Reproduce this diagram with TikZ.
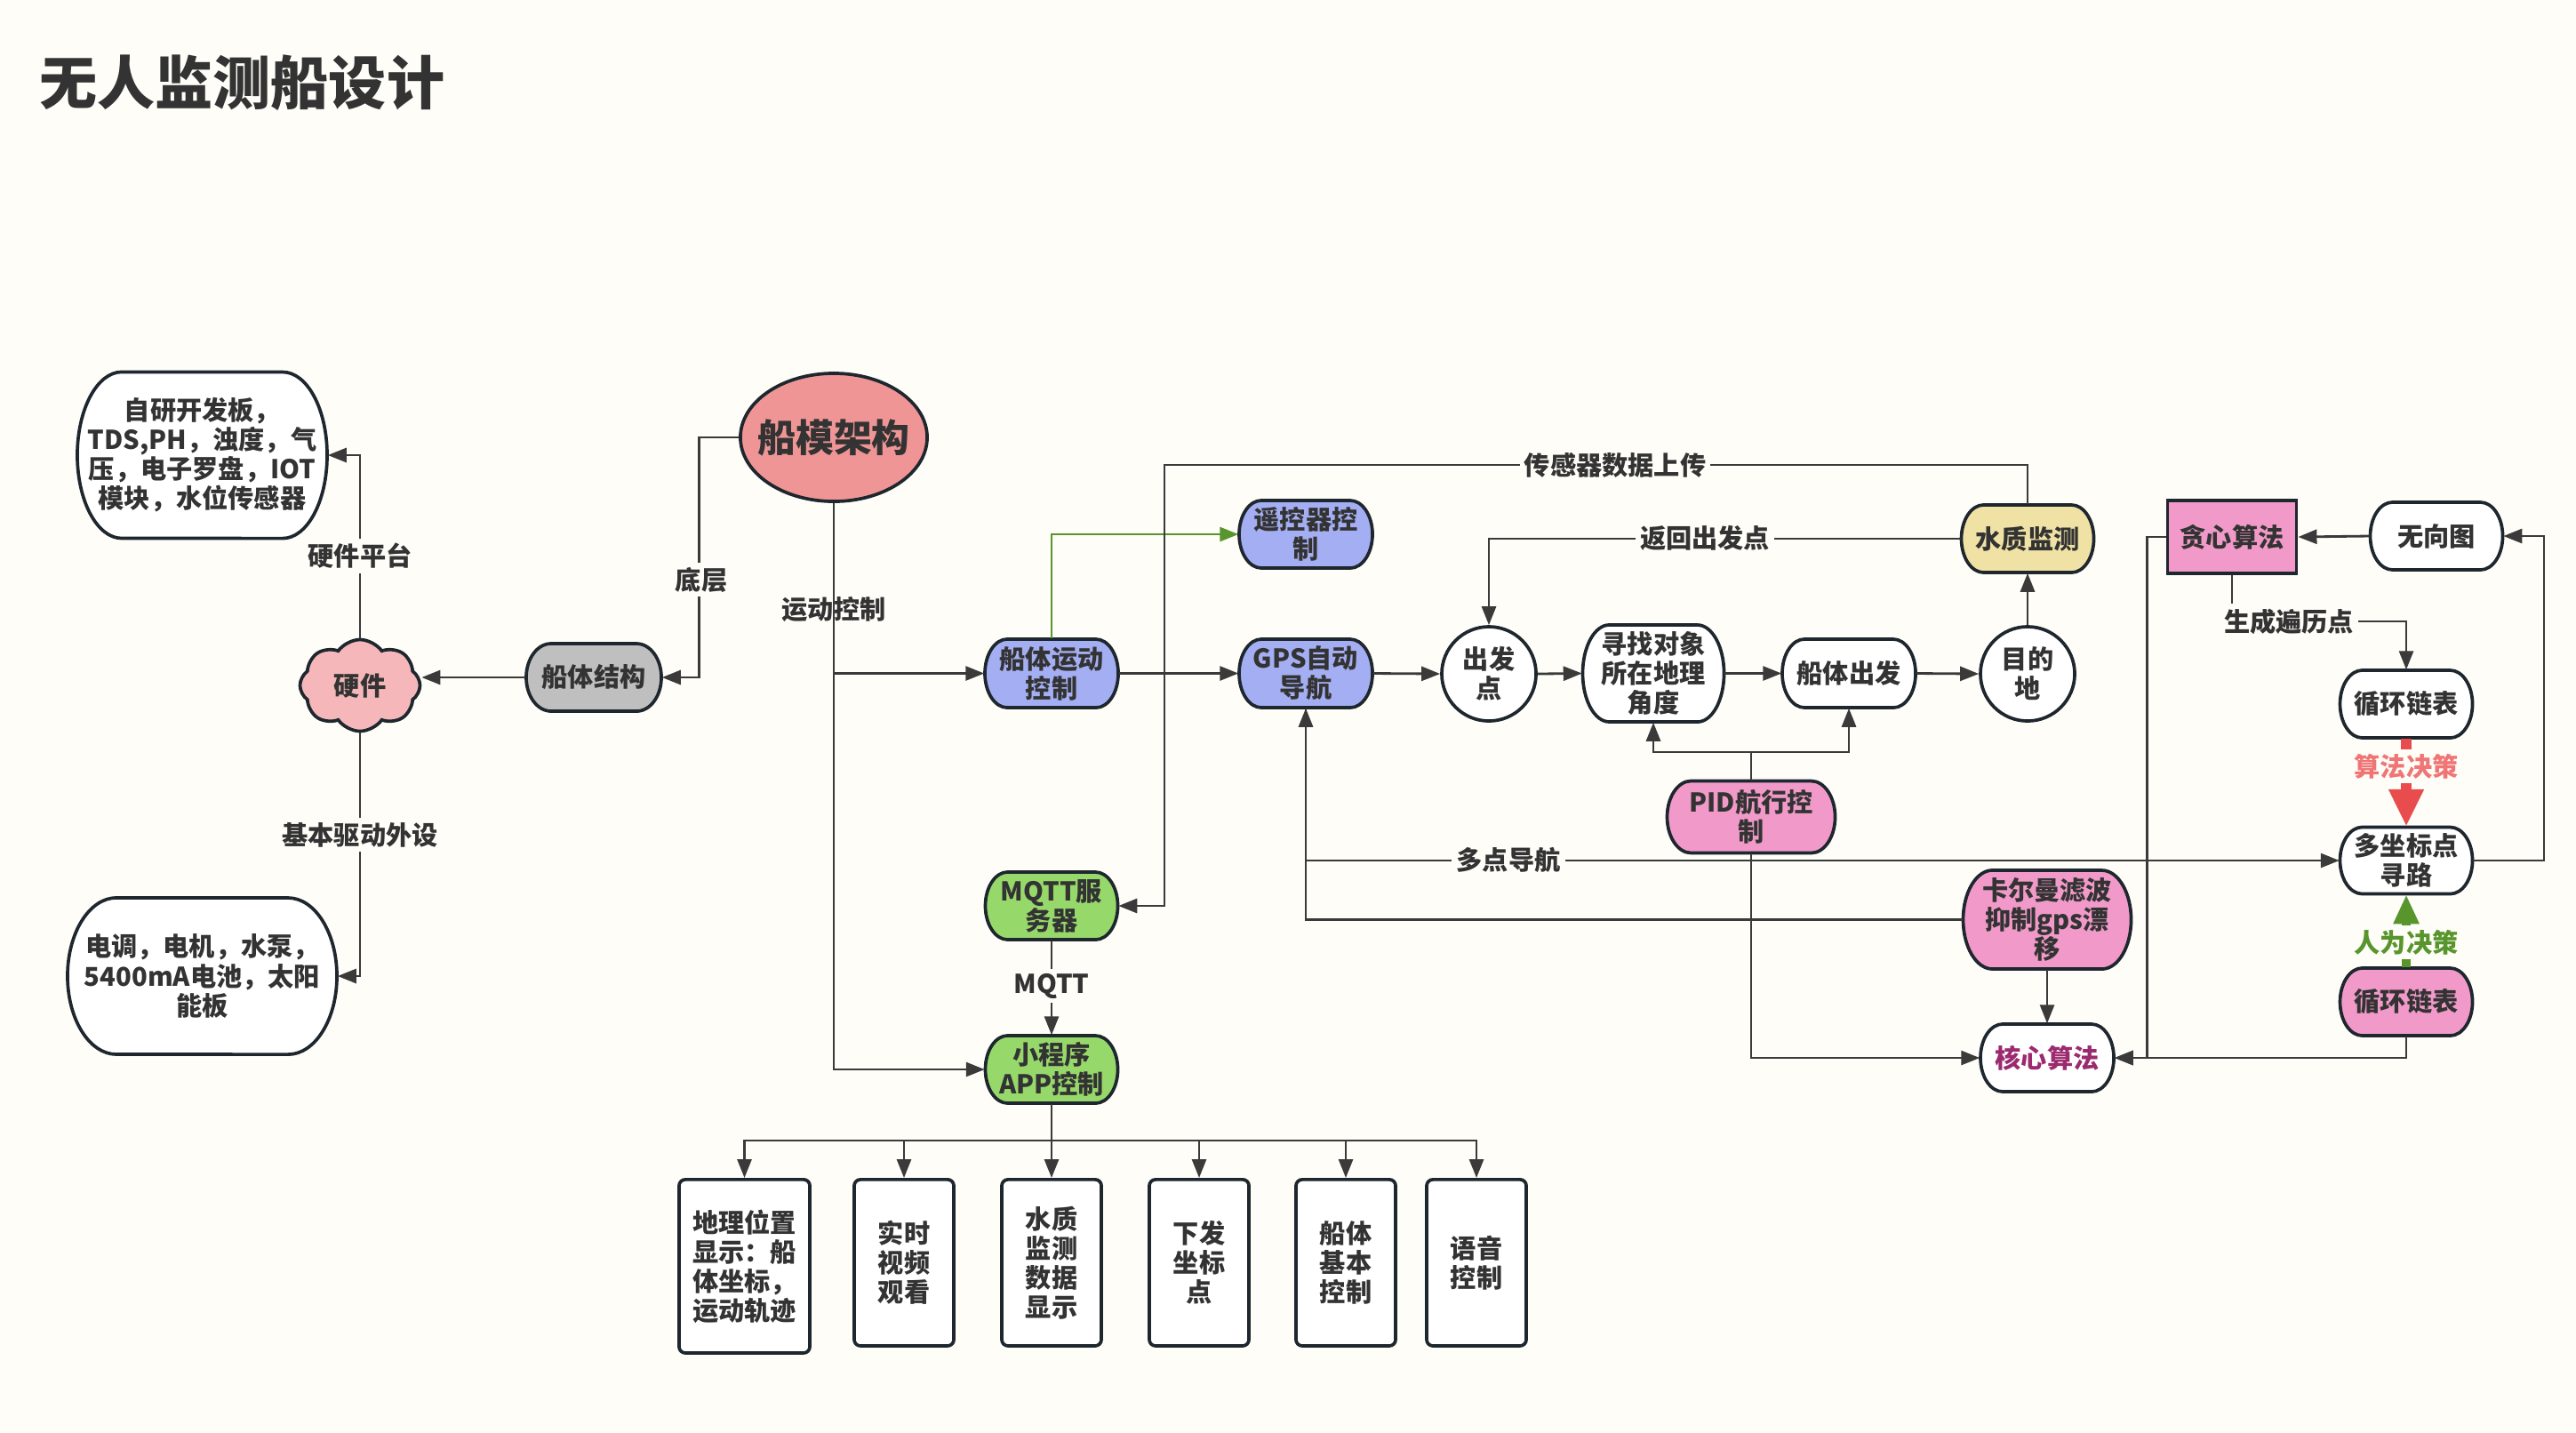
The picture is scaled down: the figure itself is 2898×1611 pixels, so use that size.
\documentclass[tikz,border=0pt]{standalone}
\usepackage{fontspec}
\setmainfont{Noto Sans CJK SC}
\usetikzlibrary{arrows.meta,shapes.geometric,shapes.symbols,calc}
\definecolor{bg}{RGB}{254,253,248}
\definecolor{textc}{RGB}{51,51,51}
\definecolor{bdc}{RGB}{30,38,46}
\definecolor{linec}{RGB}{58,58,58}
\definecolor{lavc}{RGB}{164,174,242}
\definecolor{greenc}{RGB}{151,216,107}
\definecolor{pinkc}{RGB}{241,154,201}
\definecolor{khakic}{RGB}{240,226,164}
\definecolor{grayc}{RGB}{191,191,191}
\definecolor{rootc}{RGB}{240,149,149}
\definecolor{cloudc}{RGB}{245,183,186}
\definecolor{greenl}{RGB}{88,150,45}
\definecolor{redl}{RGB}{232,76,76}
\definecolor{redt}{RGB}{240,118,118}
\definecolor{corec}{RGB}{155,42,110}
\newcommand\nf{\bfseries\fontsize{8.3}{9.4}\selectfont}
\newcommand\tn[8]{%
  \filldraw[bd, fill=#7] ({#2+#4/2-#6},{-#3+#5/2}) arc[start angle=90, end angle=-90, x radius={#6*0.1mm}, y radius={#5*0.05mm}] -- ({#2-#4/2+#6},{-#3-#5/2}) arc[start angle=270, end angle=90, x radius={#6*0.1mm}, y radius={#5*0.05mm}] -- cycle;
  \node[txt, minimum width={#4*0.1mm}, minimum height={#5*0.1mm}] (#1) at (#2,-#3) {#8};
}
\begin{document}
\begin{tikzpicture}[x=0.01cm,y=0.01cm,
  bd/.style={draw=bdc, line width=1.05pt},
  txt/.style={inner sep=0pt, align=center, text=textc, font=\nf},
  arr/.style={draw=linec, line width=0.8pt, -{Triangle[length=2.1mm,width=1.6mm]}},
  ln/.style={draw=linec, line width=0.8pt},
  lab/.style={fill=bg, inner sep=1.5pt, text=textc, font=\nf},
  bx/.style={rectangle, bd, fill=white, rounded corners=2pt, txt, minimum height=1.87cm, minimum width=1.12cm, anchor=north},
  ell/.style={ellipse, bd, fill=white, txt, minimum width=1.06cm, minimum height=1.06cm},
]
\fill[bg] (0,0) rectangle (2898,-1611);
\useasboundingbox (0,0) rectangle (2898,-1611);

\node[anchor=west, inner sep=0pt, text=textc, font=\bfseries\fontsize{18.5}{22}\selectfont] (title) at (44,-93) {无人监测船设计};

% left part
\tn{zyk}{227.5}{512}{281}{187}{50}{white}{自研开发板，\\TDS,PH，浊度，气\\压，电子罗盘，IOT\\模块，水位传感器}
\tn{dt}{227.5}{1098}{303}{176}{55}{white}{电调，电机，水泵，\\5400mA电池，太阳\\能板}
\node[cloud, cloud puffs=8, cloud puff arc=110, cloud ignores aspect, draw=bdc, line width=1.05pt, fill=cloudc, minimum width=1.35cm, minimum height=1.03cm, inner sep=0pt, font=\nf, text=textc] (hw) at (405,-771) {硬件};
\tn{jg}{668}{762}{152}{76}{28}{grayc}{船体结构}
\node[ellipse, bd, fill=rootc, minimum width=2.1cm, minimum height=1.44cm, inner sep=0pt] (root) at (938,-492) {};
\node[inner sep=0pt, text=textc, font=\bfseries\fontsize{12.2}{14}\selectfont] (rootl) at (root.center) {船模架构};

% main row
\tn{ydkz}{1183}{757.5}{150}{77}{25}{lavc}{船体运动\\控制}
\tn{gps}{1469}{757.5}{150}{77}{25}{lavc}{GPS自动\\导航}
\tn{ykq}{1469}{601}{150}{76}{25}{lavc}{遥控器控\\制}
\node[ell] (cfd) at (1675,-758) {出发\\点};
\tn{xz}{1860}{757.5}{159}{109}{30}{white}{寻找对象\\所在地理\\角度}
\tn{ctcf}{2080}{757.5}{150}{77}{25}{white}{船体出发}
\node[ell] (mdd) at (2281,-758) {目的\\地};
\tn{szjc}{2281}{606}{149}{76}{25}{khakic}{水质监测}
\tn{pid}{1970}{919}{189}{81}{27}{pinkc}{PID航行控\\制}
\tn{kal}{2303}{1034.5}{189}{111}{33}{pinkc}{卡尔曼滤波\\抑制gps漂\\移}
\tn{hx}{2303}{1190}{150}{76}{25}{white}{\textcolor{corec}{核心算法}}

% right part
\node[rectangle, bd, fill=pinkc, txt, minimum width=1.45cm, minimum height=0.82cm] (tx) at (2511,-604) {贪心算法};
\tn{wxt}{2741}{603}{149}{76}{25}{white}{无向图}
\tn{xh1}{2707}{792}{149}{76}{25}{white}{循环链表}
\tn{dzb}{2707}{968}{149}{75}{25}{white}{多坐标点\\寻路}
\tn{xh2}{2707}{1127}{149}{76}{25}{pinkc}{循环链表}

% app part
\tn{mqtt}{1183}{1019}{149}{76}{25}{greenc}{MQTT服\\务器}
\tn{app}{1183}{1203}{149}{76}{25}{greenc}{小程序\\APP控制}
\node[bx, minimum width=1.47cm, minimum height=1.95cm] (b1) at (837.5,-1325) {地理位置\\显示：船\\体坐标，\\运动轨迹};
\node[bx] (b2) at (1017,-1325) {实时\\视频\\观看};
\node[bx] (b3) at (1183,-1325) {水质\\监测\\数据\\显示};
\node[bx] (b4) at (1349,-1325) {下发\\坐标\\点};
\node[bx] (b5) at (1514,-1325) {船体\\基本\\控制};
\node[bx] (b6) at (1661,-1325) {语音\\控制};

% connectors
\draw[arr] (root.west) -- ++(-45,0) |- (jg.east);
\draw[arr] (jg.west) -- (jg.west -| hw.east);
\draw[arr] (hw.north) |- (zyk.east);
\draw[arr] (hw.south) |- (dt.east);
\draw[arr] (root.south) |- (ydkz.west);
\draw[arr] (root.south) |- (app.west);
\draw[arr, draw=greenl] (ydkz.north) |- (ykq.west);
\draw[arr] (ydkz.east) -- (gps.west);
\draw[arr] (gps.east) -- (cfd.west);
\draw[arr] (cfd.east) -- (xz.west);
\draw[arr] (xz.east) -- (ctcf.west);
\draw[arr] (ctcf.east) -- (mdd.west);
\draw[arr] (mdd.north) -- (szjc.south);
\draw[arr] (szjc.west) -| (cfd.north);
\coordinate (up) at (1310,-523);
\draw[arr] (szjc.north) |- (up) |- (mqtt.east);
\coordinate (pj) at (1970,-846);
\draw[arr] (pid.north) -- (pj) -| (xz.south);
\draw[arr] (pj) -| (ctcf.south);
\draw[arr] (pid.south) |- (hx.west);
\draw[arr] (kal.west) -| (gps.south);
\draw[arr] (gps.south) |- (dzb.west);
\draw[arr] (kal.south) -- (hx.north);
\draw[arr] (tx.west) -- ++(-21,0) |- (hx.east);
\draw[arr] (xh2.south) |- (hx.east);
\draw[arr] (wxt.west) -- (tx.east);
\coordinate (gc) at (2707,-699);
\draw[arr] (tx.south) |- (gc) -- (xh1.north);
\draw[draw=redl, line width=3.4pt, -{Triangle[length=4.2mm,width=3.7mm]}] (xh1.south) -- (dzb.north);
\draw[draw=greenl, line width=2.8pt, -{Triangle[length=3.3mm,width=2.7mm]}] (xh2.north) -- (dzb.south);
\coordinate (rc) at (2862,-968);
\draw[arr] (dzb.east) -- (rc) |- (wxt.east);
\draw[arr] (mqtt.south) -- (app.north);
\coordinate (bus) at (1183,-1283);
\draw[ln] (app.south) -- (bus);
\foreach \b in {b1,b2,b3,b4,b5,b6} \draw[arr] (bus) -| (\b.north);

% labels
\node[lab] (l1) at (789,-652) {底层};
\node[inner sep=0pt, text=textc, font=\nf] (l2) at (938,-686) {运动控制};
\node[lab] (l3) at (405,-625) {硬件平台};
\node[lab] (l4) at (405,-939) {基本驱动外设};
\node[lab] (l5) at (1817,-523) {传感器数据上传};
\node[lab] (l6) at (1918,-605) {返回出发点};
\node[lab] (l7) at (1697,-967) {多点导航};
\node[lab] (l8) at (2575,-699) {生成遍历点};
\node[lab, text=redt] (l9) at (2707,-862) {算法决策};
\node[lab, text=greenl] (l10) at (2707,-1060) {人为决策};
\node[lab] (l11) at (1183,-1109) {MQTT};
\end{tikzpicture}
\end{document}
